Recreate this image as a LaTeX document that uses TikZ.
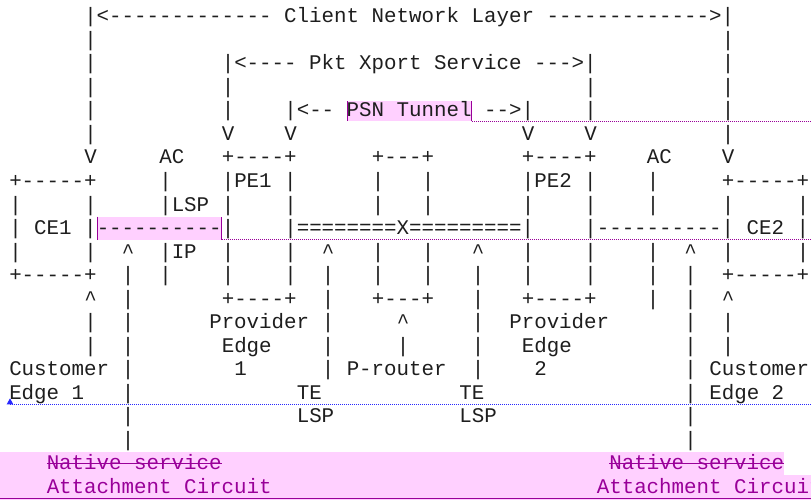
\documentclass[tikz,border=0pt]{standalone}
\usepackage{fontspec}
\setmonofont{Liberation Mono}
\definecolor{ink}{RGB}{30,30,30}
\definecolor{hlpink}{RGB}{255,208,255}
\definecolor{hlpurple}{RGB}{153,0,153}
\definecolor{markblue}{RGB}{40,40,255}
\newcommand\asciifont{\ttfamily\fontsize{20.83}{23.5}\selectfont}
% one fragment of the character grid: line, column, text
\newcommand\chunk[3]{\node[asc] (t#1x#2) at ({9.25+12.5*#2},{-23-23.5*(#1-1)}) {#3};}
\newcommand\up{\textasciicircum}
\begin{document}
\begin{tikzpicture}[x=1pt,y=1pt,
  asc/.style={anchor=base west,inner sep=0pt,outer sep=0pt,font=\asciifont,text=ink},
  ins/.style={asc,text=hlpurple},
  editbar/.style={draw=hlpurple,line width=1.2pt},
  editlead/.style={draw=hlpurple,line width=0.6pt,dash pattern=on 1pt off 1pt},
  moveline/.style={draw=markblue,line width=0.6pt,dash pattern=on 1pt off 1pt}]
\fill[white] (0,0) rectangle (811,-500);
\useasboundingbox (0,0) rectangle (811,-500);
\clip (0,0) rectangle (811,-500);

% highlighted spans
\fill[hlpink] (346.75,-101.5) rectangle (471.75,-121.5);
\fill[hlpink] (96.75,-216.5) rectangle (221.75,-239.5);
\fill[hlpink] (0,-451.75) rectangle (784.25,-475.25);
\fill[hlpink] (0,-475.25) rectangle (811,-500);

% line 1-6
\chunk{1}{6}{|<------------- Client Network Layer ------------->|}
\chunk{2}{6}{|}\chunk{2}{57}{|}
\chunk{3}{6}{|}\chunk{3}{17}{|<---- Pkt Xport Service --->|}\chunk{3}{57}{|}
\chunk{4}{6}{|}\chunk{4}{17}{|}\chunk{4}{46}{|}\chunk{4}{57}{|}
\chunk{5}{6}{|}\chunk{5}{17}{|}\chunk{5}{22}{|<-- PSN Tunnel -->|}\chunk{5}{46}{|}\chunk{5}{57}{|}
\chunk{6}{6}{|}\chunk{6}{17}{V}\chunk{6}{22}{V}\chunk{6}{41}{V}\chunk{6}{46}{V}\chunk{6}{57}{|}
% line 7-13: the boxes
\chunk{7}{6}{V}\chunk{7}{12}{AC}\chunk{7}{17}{+----+}\chunk{7}{29}{+---+}\chunk{7}{41}{+----+}\chunk{7}{51}{AC}\chunk{7}{57}{V}
\chunk{8}{0}{+-----+}\chunk{8}{12}{|}\chunk{8}{17}{|PE1 |}\chunk{8}{29}{|}\chunk{8}{33}{|}\chunk{8}{41}{|PE2 |}\chunk{8}{51}{|}\chunk{8}{57}{+-----+}
\chunk{9}{0}{|}\chunk{9}{6}{|}\chunk{9}{12}{|LSP}\chunk{9}{17}{|}\chunk{9}{22}{|}\chunk{9}{29}{|}\chunk{9}{33}{|}\chunk{9}{41}{|}\chunk{9}{46}{|}\chunk{9}{51}{|}\chunk{9}{57}{|}\chunk{9}{63}{|}
\chunk{10}{0}{| CE1 |}\chunk{10}{7}{----------}\chunk{10}{17}{|}\chunk{10}{22}{|========X=========|}\chunk{10}{46}{|----------| CE2 |}
\chunk{11}{0}{|}\chunk{11}{6}{|}\chunk{11}{9}{\up}\chunk{11}{12}{|IP}\chunk{11}{17}{|}\chunk{11}{22}{|}\chunk{11}{25}{\up}\chunk{11}{29}{|}\chunk{11}{33}{|}\chunk{11}{37}{\up}\chunk{11}{41}{|}\chunk{11}{46}{|}\chunk{11}{51}{|}\chunk{11}{54}{\up}\chunk{11}{57}{|}\chunk{11}{63}{|}
\chunk{12}{0}{+-----+}\chunk{12}{9}{|}\chunk{12}{12}{|}\chunk{12}{17}{|}\chunk{12}{22}{|}\chunk{12}{25}{|}\chunk{12}{29}{|}\chunk{12}{33}{|}\chunk{12}{37}{|}\chunk{12}{41}{|}\chunk{12}{46}{|}\chunk{12}{51}{|}\chunk{12}{54}{|}\chunk{12}{57}{+-----+}
\chunk{13}{6}{\up}\chunk{13}{9}{|}\chunk{13}{17}{+----+}\chunk{13}{25}{|}\chunk{13}{29}{+---+}\chunk{13}{37}{|}\chunk{13}{41}{+----+}\chunk{13}{51}{|}\chunk{13}{54}{|}\chunk{13}{57}{\up}
% line 14-19: labels
\chunk{14}{6}{|}\chunk{14}{9}{|}\chunk{14}{16}{Provider}\chunk{14}{25}{|}\chunk{14}{31}{\up}\chunk{14}{37}{|}\chunk{14}{40}{Provider}\chunk{14}{54}{|}\chunk{14}{57}{|}
\chunk{15}{6}{|}\chunk{15}{9}{|}\chunk{15}{17}{Edge}\chunk{15}{25}{|}\chunk{15}{31}{|}\chunk{15}{37}{|}\chunk{15}{41}{Edge}\chunk{15}{54}{|}\chunk{15}{57}{|}
\chunk{16}{0}{Customer}\chunk{16}{9}{|}\chunk{16}{18}{1}\chunk{16}{25}{| P-router}\chunk{16}{37}{|}\chunk{16}{42}{2}\chunk{16}{54}{|}\chunk{16}{56}{Customer}
\chunk{17}{0}{Edge 1}\chunk{17}{9}{|}\chunk{17}{23}{TE}\chunk{17}{36}{TE}\chunk{17}{54}{|}\chunk{17}{56}{Edge 2}
\chunk{18}{9}{|}\chunk{18}{23}{LSP}\chunk{18}{36}{LSP}\chunk{18}{54}{|}
\chunk{19}{9}{|}\chunk{19}{54}{|}
% line 20-21: edited text
\node[ins] (t20x3) at ({9.25+12.5*3},-469.5) {Native service};
\node[ins] (t20x48) at ({9.25+12.5*48},-469.5) {Native service};
\node[ins] (t21x3) at ({9.25+12.5*3},-493) {Attachment Circuit};
\node[ins] (t21x47) at ({9.25+12.5*47},-493) {Attachment Circuit};
\draw[hlpurple,line width=0.9pt] ([yshift=6.5pt]t20x3.base west) -- ([yshift=6.5pt]t20x3.base east);
\draw[hlpurple,line width=0.9pt] ([yshift=6.5pt]t20x48.base west) -- ([yshift=6.5pt]t20x48.base east);
\draw[hlpurple,line width=0.9pt] (0,-498.7) -- (811,-498.7);

% change bars and leader lines
\coordinate (psnL) at (347.25,-101.5);
\coordinate (psnR) at (471.75,-121.5);
\coordinate (acL) at (97.25,-216.5);
\coordinate (acR) at (221.75,-239.5);
\draw[editbar] (psnL) -- (psnL |- psnR);
\draw[editbar] (psnR) -- (psnR |- psnL);
\draw[editlead] (psnR) -- (811,-121.5);
\draw[editbar] (acL) -- (acL |- acR);
\draw[editbar] (acR) -- (acR |- acL);
\draw[editlead] (acR) -- (811,-239.5);

% moved-text marker
\coordinate (mv) at (10,-404);
\fill[markblue] (6.7,-404.3) -- (13.3,-404.3) -- (10,-398.3) -- cycle;
\draw[moveline] (mv) -- (811,-404);
\end{tikzpicture}
\end{document}
